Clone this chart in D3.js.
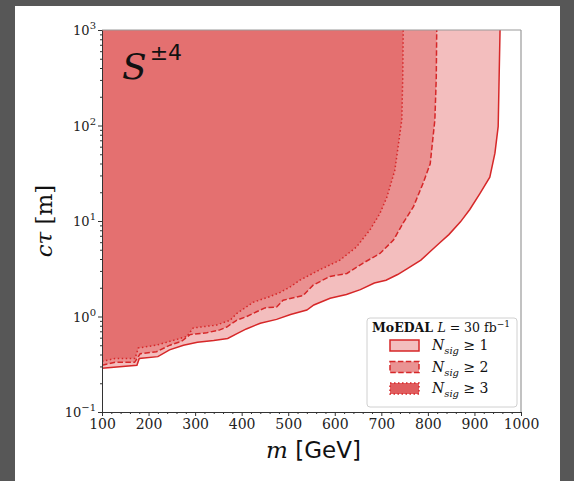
<!DOCTYPE html>
<html>
<head>
<meta charset="utf-8">
<script src="https://cdn.jsdelivr.net/npm/d3@7"></script>
<style>
  html, body { margin: 0; padding: 0; background: #575757; }
  svg { display: block; }
</style>
</head>
<body>
<svg id="chart" width="574" height="481"></svg>
<script>
/* ── Data ────────────────────────────────────────────────── */
// Nsig >= 1  (solid)
const massN1 = [100, 175, 180, 220, 245, 275, 305, 340, 370, 390, 410, 440, 475, 505, 540, 555, 590, 625, 655, 685, 710, 735, 755, 785, 805, 825, 845, 870, 890, 912, 933, 944, 951, 953, 955];
const ctauN1 = [0.288, 0.309, 0.363, 0.380, 0.447, 0.501, 0.537, 0.562, 0.589, 0.661, 0.741, 0.851, 0.933, 1.05, 1.17, 1.32, 1.55, 1.70, 1.91, 2.24, 2.40, 2.75, 3.16, 3.89, 4.79, 5.89, 7.2, 9.8, 13.2, 19.5, 28.8, 51.3, 97.7, 316, 1000];

// Nsig >= 2  (dashed)
const massN2 = [100, 128, 170, 182, 217, 246, 271, 289, 325, 353, 368, 389, 411, 432, 450, 475, 489, 532, 554, 590, 626, 661, 697, 726, 747, 769, 790, 805, 815, 818, 819];
const ctauN2 = [0.309, 0.331, 0.331, 0.407, 0.427, 0.501, 0.550, 0.646, 0.676, 0.724, 0.776, 0.912, 1.00, 1.12, 1.23, 1.26, 1.48, 1.66, 2.14, 2.63, 2.82, 3.63, 4.57, 6.31, 9.55, 14.1, 25.1, 39.8, 115, 316, 1000];

// Nsig >= 3  (dotted)
const massN3 = [100, 128, 171, 178, 217, 253, 282, 296, 346, 375, 389, 425, 461, 482, 504, 525, 568, 611, 647, 676, 697, 712, 729, 744, 746, 747];
const ctauN3 = [0.339, 0.363, 0.363, 0.468, 0.501, 0.562, 0.617, 0.759, 0.813, 0.912, 1.07, 1.41, 1.62, 1.78, 2.04, 2.40, 3.09, 3.89, 5.37, 8.13, 12.0, 17.8, 33.9, 115, 316, 1000];

const xTicks = [100, 200, 300, 400, 500, 600, 700, 800, 900, 1000];
const yTicks = [0.1, 1, 10, 100, 1000];
const yExps  = ['−1', '0', '1', '2', '3'];
const legendLabels = ['1', '2', '3'];

/* ── Setup ───────────────────────────────────────────────── */
const RED = '#d62728';
const SERIF = "'DejaVu Serif', serif";
const SANS  = "'DejaVu Sans', sans-serif";

const svg = d3.select('#chart');
const X0 = 102, X1 = 521, Y0 = 30, Y1 = 412;

svg.append('rect')
  .attr('x', 15).attr('y', 6).attr('width', 545).attr('height', 475)
  .attr('fill', '#fff');

const x = d3.scaleLinear().domain([100, 1000]).range([X0, X1]);
const y = d3.scaleLog().domain([0.1, 1000]).range([Y1, Y0]);

svg.append('clipPath').attr('id', 'plot-clip')
  .append('rect').attr('x', X0).attr('y', Y0).attr('width', X1 - X0).attr('height', Y1 - Y0);

const series = [
  { mass: massN1, ctau: ctauN1, dash: null },
  { mass: massN2, ctau: ctauN2, dash: '5.5,2.4' },
  { mass: massN3, ctau: ctauN3, dash: '1.5,2.5' }
];

const plot = svg.append('g').attr('clip-path', 'url(#plot-clip)');

const area = d3.area()
  .x(d => x(d[0]))
  .y0(y(1000))
  .y1(d => y(d[1]));

const line = d3.line()
  .x(d => x(d[0]))
  .y(d => y(d[1]));

series.forEach(s => {
  const pts = s.mass.map((m, i) => [m, s.ctau[i]]);
  plot.append('path')
    .attr('d', area(pts))
    .attr('fill', RED)
    .attr('fill-opacity', 0.3);
});

series.forEach(s => {
  const pts = s.mass.map((m, i) => [m, s.ctau[i]]);
  plot.append('path')
    .attr('d', line(pts))
    .attr('fill', 'none')
    .attr('stroke', RED)
    .attr('stroke-width', 1.5)
    .attr('stroke-dasharray', s.dash);
});

/* ── Frame ───────────────────────────────────────────────── */
svg.append('line').attr('x1', X0).attr('x2', X1).attr('y1', Y0).attr('y2', Y0)
  .attr('stroke', '#999').attr('stroke-width', 1.2);
svg.append('line').attr('x1', X1).attr('x2', X1).attr('y1', Y0).attr('y2', Y1)
  .attr('stroke', '#999').attr('stroke-width', 1.2);

/* ── Axes ────────────────────────────────────────────────── */
const xMinor = d3.range(120, 1000, 20).filter(v => v % 100 !== 0);
const xAxis = svg.append('g').attr('transform', `translate(0,${Y1})`);
xAxis.call(d3.axisBottom(x).tickValues(xMinor).tickSize(2).tickFormat(''));
xAxis.call(g => g.select('.domain').remove());
const xAxisMaj = svg.append('g').attr('transform', `translate(0,${Y1})`)
  .call(d3.axisBottom(x).tickValues(xTicks).tickSize(4).tickSizeOuter(0).tickPadding(3).tickFormat(d3.format('d')));
xAxisMaj.select('.domain').attr('stroke', '#333');
xAxisMaj.selectAll('text')
  .attr('font-family', SERIF).attr('font-size', 14).attr('fill', '#222');
xAxis.selectAll('line').attr('stroke', '#333');
xAxisMaj.selectAll('line').attr('stroke', '#333');

const yMinor = [];
[0.1, 1, 10, 100].forEach(b => { for (let k = 2; k <= 9; k++) yMinor.push(b * k); });
const yAxis = svg.append('g').attr('transform', `translate(${X0},0)`);
yAxis.call(d3.axisLeft(y).tickValues(yMinor).tickSize(2).tickFormat(''));
yAxis.call(g => g.select('.domain').remove());
yAxis.selectAll('line').attr('stroke', '#333');
const yAxisMaj = svg.append('g').attr('transform', `translate(${X0},0)`)
  .call(d3.axisLeft(y).tickValues(yTicks).tickSize(4).tickSizeOuter(0).tickFormat(''));
yAxisMaj.select('.domain').attr('stroke', '#333');
yAxisMaj.selectAll('line').attr('stroke', '#333');

yTicks.forEach((v, i) => {
  const t = svg.append('text')
    .attr('x', X0 - 6).attr('y', y(v) + 5)
    .attr('text-anchor', 'end')
    .attr('font-family', SERIF).attr('font-size', 13).attr('fill', '#222');
  t.append('tspan').text('10');
  t.append('tspan').attr('dy', -6).attr('font-size', 10).text(yExps[i]);
});

/* ── Axis titles ─────────────────────────────────────────── */
const xt = svg.append('text')
  .attr('x', (X0 + X1) / 2 + 2).attr('y', 458)
  .attr('text-anchor', 'middle').attr('font-size', 23).attr('fill', '#111');
xt.append('tspan').attr('font-family', SERIF).attr('font-style', 'italic').text('m');
xt.append('tspan').attr('font-family', SANS).text(' [GeV]');

const yt = svg.append('text')
  .attr('transform', `translate(52,${(Y0 + Y1) / 2}) rotate(-90)`)
  .attr('text-anchor', 'middle').attr('font-size', 23).attr('fill', '#111')
  .attr('font-family', SERIF);
yt.append('tspan').attr('font-style', 'italic').text('cτ');
yt.append('tspan').text(' [m]');

/* ── Panel label ─────────────────────────────────────────── */
const lab = svg.append('text').attr('x', 122).attr('y', 79).attr('fill', '#111');
lab.append('tspan').attr('font-family', SERIF).attr('font-style', 'italic').attr('font-size', 36).text('S');
lab.append('tspan').attr('font-family', SANS).attr('font-size', 22).attr('dx', 3).attr('dy', -19).text('±4');

/* ── Legend ──────────────────────────────────────────────── */
const leg = svg.append('g');
leg.append('rect')
  .attr('x', 367).attr('y', 318).attr('width', 150).attr('height', 89).attr('rx', 3)
  .attr('fill', '#fff').attr('fill-opacity', 0.85)
  .attr('stroke', '#d0d0d0').attr('stroke-width', 1);

const lt = leg.append('text').attr('x', 372).attr('y', 332)
  .attr('font-family', SERIF).attr('font-size', 12.5).attr('fill', '#111');
lt.append('tspan').attr('font-weight', 'bold').text('MoEDAL ');
lt.append('tspan').attr('font-style', 'italic').text('L');
lt.append('tspan').text(' = 30 fb');
lt.append('tspan').attr('dy', -5).attr('font-size', 9).text('−1');

const legOpacity = [0.3, 0.5, 0.75];
series.forEach((s, i) => {
  const yy = 340 + i * 21.5;
  leg.append('rect')
    .attr('x', 390).attr('y', yy).attr('width', 29).attr('height', 11)
    .attr('fill', RED).attr('fill-opacity', legOpacity[i])
    .attr('stroke', RED).attr('stroke-width', 1.5)
    .attr('stroke-dasharray', s.dash);
  const t = leg.append('text').attr('x', 432).attr('y', yy + 10)
    .attr('font-family', SERIF).attr('font-size', 14).attr('fill', '#111');
  t.append('tspan').attr('font-style', 'italic').text('N');
  t.append('tspan').attr('font-style', 'italic').attr('font-size', 10).attr('dy', 4).text('sig');
  t.append('tspan').attr('dy', -4).text(' ≥ ' + legendLabels[i]);
});
</script>
</body>
</html>
